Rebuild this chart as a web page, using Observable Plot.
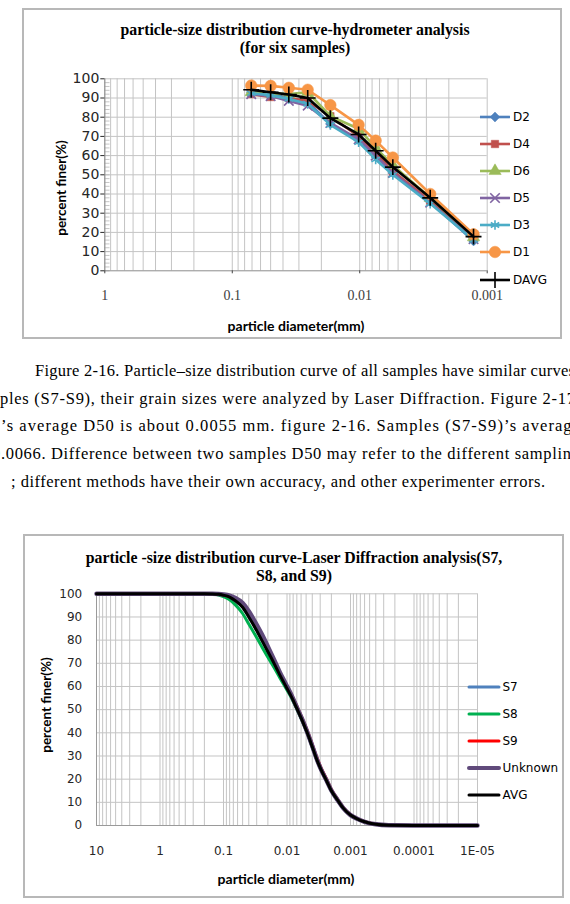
<!DOCTYPE html>
<html><head><meta charset="utf-8">
<script src="https://cdn.jsdelivr.net/npm/d3@7"></script>
<script src="https://cdn.jsdelivr.net/npm/@observablehq/plot@0.6"></script>
<style>
html,body{margin:0;padding:0;background:#fff;}
#page{position:relative;width:570px;height:904px;overflow:hidden;background:#fff;}
.box{position:absolute;border:2px solid #b8b8b8;box-sizing:border-box;background:#fff;}
.abs{position:absolute;white-space:nowrap;}
.title{font-family:"Liberation Serif",serif;font-weight:bold;font-size:15.8px;color:#000;transform:translate(-50%,-50%);line-height:1;}
.axt{font-family:Lato,sans-serif;font-weight:bold;font-size:14px;color:#000;transform:translate(-50%,-50%);line-height:1;}
.axtv{font-family:Lato,sans-serif;font-weight:bold;font-size:13.5px;color:#000;transform:translate(-50%,-50%) rotate(-90deg);line-height:1;}
.leg{font-family:"DejaVu Sans",sans-serif;font-size:12px;color:#000;line-height:1;}
.plotwrap{position:absolute;}
</style></head>
<body><div id="page"></div>
<script>
// ---------- Chart 1 data (hydrometer analysis) ----------
const diam1 = [0.071, 0.050, 0.036, 0.0256, 0.017, 0.0102, 0.0075, 0.0055, 0.0028, 0.00128];
const names1 = ["D2", "D4", "D6", "D5", "D3", "D1", "DAVG"];
const D2   = [93.0, 92.0, 90.0, 88.0, 76.5, 68.0, 60.0, 51.0, 36.0, 15.5];
const D4   = [92.0, 90.5, 90.0, 88.5, 80.5, 70.0, 61.0, 52.0, 36.5, 17.0];
const D6   = [93.0, 92.5, 92.0, 93.0, 80.5, 74.0, 64.0, 55.0, 38.0, 17.5];
const D5   = [92.0, 91.0, 88.5, 86.0, 77.0, 68.5, 60.0, 51.0, 35.5, 16.5];
const D3   = [92.5, 91.5, 89.5, 87.0, 76.0, 67.0, 58.0, 50.0, 35.0, 16.0];
const D1   = [96.5, 96.3, 95.3, 94.3, 86.3, 76.0, 67.8, 59.0, 40.0, 19.0];
const DAVG = [94.3, 93.0, 91.8, 90.0, 79.5, 71.0, 62.5, 54.0, 38.0, 17.8];
const xTicks1 = [1, 0.1, 0.01, 0.001];
const xLabels1 = ["1", "0.1", "0.01", "0.001"];
const yTicks = [0, 10, 20, 30, 40, 50, 60, 70, 80, 90, 100];

// ---------- Chart 2 data (laser diffraction) ----------
const diam2 = [10, 1, 0.2, 0.15, 0.12, 0.1, 0.08, 0.065, 0.05, 0.04, 0.032, 0.025, 0.02, 0.016, 0.013, 0.0104, 0.0085, 0.007, 0.0058, 0.0048, 0.004, 0.0034, 0.0029, 0.0024, 0.002, 0.0016, 0.0013, 0.001, 0.0008, 0.0006, 0.0004, 0.00025, 0.0001, 0.00001];
const names2 = ["S7", "S8", "S9", "Unknown", "AVG"];
const S7      = [100,100,100,99.95,99.8,99.4,98.6,97.0,94.3,90.3,85.8,80.3,75.2,70.2,65.2,60.2,55.6,50.6,45.6,40.0,34.0,28.5,24.0,19.5,15.0,11.0,7.5,4.5,3.0,1.6,0.5,0.1,0,0];
const S8      = [100,100,100,99.9,99.5,98.8,97.4,95.2,91.5,87.0,82.4,77.2,72.6,68.2,63.8,59.2,55.0,50.2,45.3,39.8,33.8,28.4,23.9,19.4,14.9,10.9,7.4,4.4,2.9,1.5,0.5,0.1,0,0];
const S9      = [100,100,100,99.95,99.85,99.5,98.8,97.3,94.6,90.6,86.2,80.8,75.8,70.8,65.8,60.8,56.5,51.5,46.5,41.0,35.0,29.5,24.8,20.2,15.6,11.4,7.8,4.7,3.1,1.7,0.6,0.1,0,0];
const Unknown = [100,100,100,100,99.9,99.7,99.2,98.2,96.0,92.5,88.0,82.6,77.2,71.6,66.2,61.0,56.2,51.0,46.0,40.3,34.3,28.7,24.1,19.6,15.1,11.0,7.5,4.5,3.0,1.6,0.5,0.1,0,0];
const AVG     = [100,100,100,99.95,99.8,99.4,98.6,97.0,94.2,90.0,85.5,80.0,75.0,70.0,65.0,60.0,55.5,50.5,45.5,40.0,34.0,28.5,24.0,19.5,15.0,11.0,7.5,4.5,3.0,1.6,0.5,0.1,0,0];
const xTicks2 = [10, 1, 0.1, 0.01, 0.001, 0.0001, 0.00001];
const xLabels2 = ["10", "1", "0.1", "0.01", "0.001", "0.0001", "1E-05"];

// ---------- Text between the charts ----------
const bodyLines = [
  "Figure 2-16. Particle\u2013size distribution curve of all samples have similar curves",
  "ples (S7-S9), their grain sizes were analyzed by Laser Diffraction. Figure 2-17",
  "\u2019s average D50 is about 0.0055 mm. figure 2-16. Samples (S7-S9)\u2019s average",
  "0.0066. Difference between two samples D50 may refer to the different sampling",
  "; different methods have their own accuracy, and other experimenter errors."
];

// ---------- styles ----------
const style1 = {
  D2:   {color: "#4F81BD", symbol: "diamond2", r: 4.4, fill: true},
  D4:   {color: "#C0504D", symbol: "square", r: 4.2, fill: true},
  D6:   {color: "#9BBB59", symbol: "triangle", r: 4.6, fill: true},
  D5:   {color: "#8064A2", symbol: "times", r: 4.4, fill: false},
  D3:   {color: "#4BACC6", symbol: "asterisk", r: 4.6, fill: false},
  D1:   {color: "#F79646", symbol: "circle", r: 5.8, fill: true},
  DAVG: {color: "#000000", symbol: "plus", r: 5.2, fill: false}
};
const style2 = {
  S7: {color: "#4F81BD", w: 3},
  S8: {color: "#00B050", w: 3},
  S9: {color: "#FF0000", w: 3},
  Unknown: {color: "#604A7B", w: 4.5},
  AVG: {color: "#000000", w: 3}
};

const page = document.getElementById("page");
function el(cls, html, left, top, extra) {
  const d = document.createElement("div");
  d.className = "abs " + cls;
  d.innerHTML = html;
  d.style.left = left + "px";
  d.style.top = top + "px";
  if (extra) Object.assign(d.style, extra);
  page.appendChild(d);
  return d;
}

// ---------- Chart 1 ----------
const series1 = {D2, D4, D6, D5, D3, D1, DAVG};
const rows1 = names1.flatMap(s => series1[s].map((v, i) => ({s, d: diam1[i], v})));
const minor1 = [];
for (let e = -3; e <= -1; e++) for (let k = 1; k <= 9; k++) minor1.push(k * Math.pow(10, e));
minor1.push(1);

el("box", "", 22, 8, {width: "540px", height: "331px"});
const marks1 = [
  Plot.ruleX(minor1, {stroke: "#c4c4c4", strokeWidth: 1}),
  Plot.ruleY(yTicks.filter(t => t > 0), {stroke: "#c4c4c4", strokeWidth: 1}),
  Plot.ruleY(d3.range(0, 100, 2), {x1: 1, x2: 0.91, stroke: "#b8b8b8", strokeWidth: 0.8}),
  Plot.ruleX([1], {stroke: "#8c8c8c", strokeWidth: 1}),
  Plot.ruleY([0], {stroke: "#8c8c8c", strokeWidth: 1})
];
for (const s of names1) {
  const st = style1[s];
  const data = rows1.filter(r => r.s === s);
  marks1.push(Plot.line(data, {x: "d", y: "v", stroke: st.color, strokeWidth: 2.6}));
  marks1.push(Plot.dot(data, {x: "d", y: "v", symbol: st.symbol, r: st.r,
    fill: st.fill ? st.color : "none", stroke: st.color, strokeWidth: st.fill ? 0.5 : 1.6}));
}
const xmap1 = new Map(xTicks1.map((t, i) => [t, xLabels1[i]]));
marks1.push(Plot.axisX(xTicks1, {tickFormat: d => xmap1.get(d), tickSize: 3, tickPadding: 16, label: null,
  fontFamily: "Liberation Serif", fontSize: 14, color: "#404040"}));
marks1.push(Plot.axisY(yTicks, {tickSize: 4, tickPadding: 1.5, label: null, fontFamily: "DejaVu Sans", fontSize: 14, color: "#262626"}));

const svg1 = Plot.plot({
  width: 538, height: 329,
  marginLeft: 82.3, marginRight: 73.3, marginTop: 70.3, marginBottom: 66.7,
  style: {background: "transparent", overflow: "visible"},
  x: {type: "log", domain: [1, 0.001]},
  y: {domain: [0, 100]},
  marks: marks1
});
const w1 = document.createElement("div");
w1.className = "plotwrap"; w1.style.left = "22px"; w1.style.top = "8px";
w1.appendChild(svg1); page.appendChild(w1);

el("title", "particle-size distribution curve-hydrometer analysis", 295, 30);
el("title", "(for six samples)", 295, 48);
el("axtv", "percent finer(%)", 62, 188);
el("axt", "particle diameter(mm)", 296, 326);

const symMap = {
  diamond2: d3.symbolDiamond2, square: d3.symbolSquare, triangle: d3.symbolTriangle,
  times: d3.symbolTimes, asterisk: d3.symbolAsterisk, circle: d3.symbolCircle, plus: d3.symbolPlus
};
function legendSym(st) {
  const p = d3.symbol(symMap[st.symbol], st.r * st.r * Math.PI)();
  return `<path d="${p}" transform="translate(15,7)" fill="${st.fill ? st.color : "none"}" stroke="${st.color}" stroke-width="${st.fill ? 0.5 : 1.6}"/>`;
}
const legY1 = [117, 144, 171, 198, 225, 252, 280];
names1.forEach((s, i) => {
  const st = style1[s];
  el("leg", `<svg width="32" height="14" style="vertical-align:middle;overflow:visible"><line x1="0" x2="30" y1="7" y2="7" stroke="${st.color}" stroke-width="2.6"/>${legendSym(st)}</svg>`,
    480, legY1[i] - 7);
  el("leg", s, 513, legY1[i] - 6);
});

// ---------- Text ----------
const tsvg = d3.select(page).append("svg").attr("width", 570).attr("height", 180)
  .style("position", "absolute").style("left", "0px").style("top", "340px");
const lineSpec = [
  {x: 35, len: 540, y: 376},
  {x: 0, len: 575, y: 404},
  {x: 1, len: 579, y: 431},
  {x: -8, len: 588, y: 459},
  {x: 11, len: 534, y: 487}
];
bodyLines.forEach((t, i) => {
  const sp = lineSpec[i];
  tsvg.append("text").attr("x", sp.x).attr("y", sp.y - 340)
    .attr("textLength", sp.len).attr("lengthAdjust", "spacing")
    .attr("font-family", "Liberation Serif").attr("font-size", 16.5).attr("fill", "#000")
    .text(t);
});

// ---------- Chart 2 ----------
const series2 = {S7, S8, S9, Unknown, AVG};
const rows2 = names2.flatMap(s => series2[s].map((v, i) => ({s, d: diam2[i], v})));
const minor2 = [];
for (let e = -5; e <= 0; e++) for (let k = 1; k <= 9; k++) minor2.push(k * Math.pow(10, e));
minor2.push(10);

el("box", "", 23, 534, {width: "541px", height: "364px"});
const marks2 = [
  Plot.ruleX(minor2, {stroke: "#c4c4c4", strokeWidth: 1}),
  Plot.ruleY(yTicks.filter(t => t > 0), {stroke: "#c4c4c4", strokeWidth: 1}),
  Plot.ruleX([10], {stroke: "#9a9a9a", strokeWidth: 1}),
  Plot.ruleY([0], {stroke: "#9a9a9a", strokeWidth: 1})
];
for (const s of names2) {
  const st = style2[s];
  marks2.push(Plot.line(rows2.filter(r => r.s === s), {x: "d", y: "v", stroke: st.color, strokeWidth: st.w, curve: "monotone-x"}));
}
const xmap2 = new Map(xTicks2.map((t, i) => [t, xLabels2[i]]));
marks2.push(Plot.axisX(xTicks2, {tickFormat: d => xmap2.get(d), tickSize: 0, tickPadding: 20.6, label: null,
  fontFamily: "DejaVu Sans", fontSize: 12, color: "#262626"}));
marks2.push(Plot.axisY(yTicks, {tickSize: 0, tickPadding: 14.3, label: null, fontFamily: "DejaVu Sans", fontSize: 12, color: "#262626"}));

const svg2 = Plot.plot({
  width: 541, height: 363,
  marginLeft: 73, marginRight: 87, marginTop: 59.3, marginBottom: 72,
  style: {background: "transparent", overflow: "visible"},
  x: {type: "log", domain: [10, 0.00001]},
  y: {domain: [0, 100]},
  marks: marks2
});
const w2 = document.createElement("div");
w2.className = "plotwrap"; w2.style.left = "23px"; w2.style.top = "534px";
w2.appendChild(svg2); page.appendChild(w2);

el("title", "particle -size distribution curve-Laser Diffraction analysis(S7,", 294, 558);
el("title", "S8, and S9)", 294, 576);
el("axtv", "percent finer(%)", 47, 705);
el("axt", "particle diameter(mm)", 286, 879);

const legY2 = [686.7, 714, 740.7, 767.7, 795];
names2.forEach((s, i) => {
  const st = style2[s];
  el("leg", `<svg width="32" height="10" style="overflow:visible"><line x1="0" x2="30" y1="5" y2="5" stroke="${st.color}" stroke-width="${Math.min(st.w, 4)}" stroke-linecap="round"/></svg>`,
    469, legY2[i] - 5);
  el("leg", s, 502.5, legY2[i] - 6);
});
</script>
</body></html>
